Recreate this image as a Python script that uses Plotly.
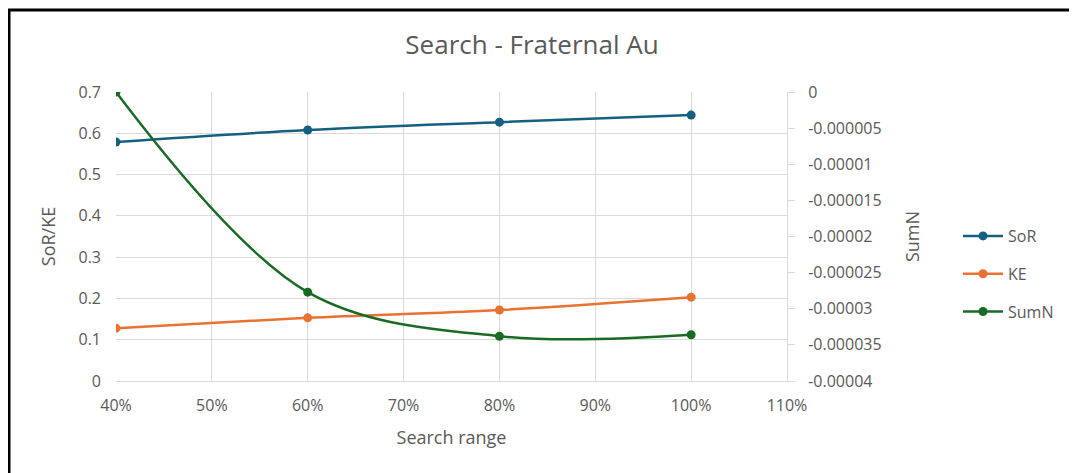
import plotly.graph_objects as go

# data
search_range = [0.4, 0.6, 0.8, 1.0]
sor = [0.579, 0.608, 0.627, 0.644]
ke = [0.128, 0.153, 0.172, 0.203]
sumn = [0.0, -0.0000277, -0.0000338, -0.0000336]

y2_ticks = [0, -0.000005, -0.00001, -0.000015, -0.00002, -0.000025, -0.00003, -0.000035, -0.00004]
y2_labels = ["0", "-0.000005", "-0.00001", "-0.000015", "-0.00002", "-0.000025",
             "-0.00003", "-0.000035", "-0.00004"]

gray = "#595959"
grid = "#D9D9D9"
font = "Open Sans"

# page body adds 8px, so plot box is placed 8px up/left of where it shows
L, T, W, H = 108, 84, 671, 289

fig = go.Figure()
for name, vals, col, ax in [("SoR", sor, "#156082", "y"),
                            ("KE", ke, "#E97132", "y"),
                            ("SumN", sumn, "#196B24", "y2")]:
    fig.add_trace(go.Scatter(x=search_range, y=vals, name=name, mode="lines+markers",
                             yaxis=ax, legendgroup=name,
                             line=dict(color=col, width=2.5, shape="spline"),
                             marker=dict(size=9, color=col)))

fig.update_layout(
    width=1077,
    height=473,
    margin=dict(l=L, r=1077 - L - W, t=T, b=473 - T - H),
    paper_bgcolor="white",
    plot_bgcolor="white",
    font=dict(family=font, color=gray, size=16),
    title=dict(text="Search - Fraternal Au", x=(532 - 8) / 1077, xref="container", xanchor="center",
               y=1 - 37 / 473, yanchor="middle",
               font=dict(size=26, color=gray, family=font)),
    xaxis=dict(range=[0.4, 1.1], dtick=0.1, tick0=0.4, tickformat=".0%",
               showgrid=True, gridcolor=grid, gridwidth=1,
               showline=True, linecolor=grid, linewidth=1, zeroline=False,
               ticks="", ticklabelstandoff=10,
               title=dict(text="Search range", font=dict(size=18, color=gray), standoff=16)),
    yaxis=dict(range=[0, 0.7], dtick=0.1, showgrid=True, gridcolor=grid, gridwidth=1,
               zeroline=False, showline=False, ticks="", ticklabelstandoff=14,
               title=dict(text="SoR/KE", font=dict(size=18, color=gray), standoff=18)),
    yaxis2=dict(overlaying="y", side="right", range=[-0.00004, 0],
                tickmode="array", tickvals=y2_ticks, ticktext=y2_labels,
                showgrid=False, zeroline=False, showline=True, linecolor=grid,
                ticks="outside", ticklen=7, tickcolor=grid, ticklabelstandoff=10,
                title=dict(text="SumN", font=dict(size=18, color=gray), standoff=25)),
    legend=dict(x=(958 - 8 - L) / W, xanchor="left", y=(T + H - 274 + 8) / H, yanchor="middle",
                font=dict(size=16, color=gray), itemwidth=40, tracegroupgap=14,
                traceorder="grouped", bgcolor="rgba(0,0,0,0)"),
    shapes=[dict(type="rect", xref="paper", yref="paper",
                 x0=(1 - L) / W, x1=1.6, y0=-0.6, y1=1 + (T - 2) / H,
                 line=dict(color="black", width=3), fillcolor="rgba(0,0,0,0)", layer="below")],
)

fig.write_html("out.html")
